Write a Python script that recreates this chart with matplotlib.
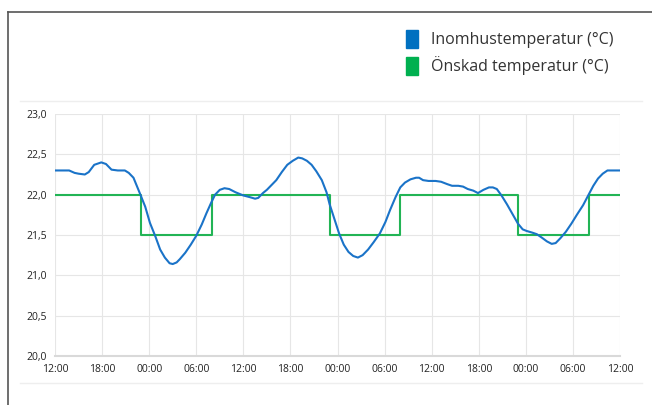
import matplotlib.pyplot as plt
from matplotlib.lines import Line2D
from matplotlib.patches import Patch

plt.rcParams['font.family'] = ['Open Sans', 'DejaVu Sans']

# timmar från start (12:00 dag 1)
inne_t = [0, 1.8, 2.5, 3.0, 3.8, 4.3, 5.0, 5.9, 6.5, 7.2, 8.0, 8.9, 9.4, 10.0,
          10.8, 11.5, 12.1, 12.8, 13.4, 14.0, 14.6, 15.0, 15.5, 15.9, 16.6, 17.3,
          18.0, 18.7, 19.3, 19.9, 20.4, 21.0, 21.6, 22.2, 23.0, 24.0, 24.8, 25.5,
          25.9, 26.5, 27.0, 27.6, 28.2, 28.9, 29.6, 30.3, 31.0, 31.5, 32.1, 32.7,
          33.3, 34.0, 34.6, 35.0, 35.6, 36.2, 36.8, 37.4, 38.0, 38.6, 39.2, 39.9,
          40.6, 41.4, 42.1, 42.7, 43.4, 44.0, 44.6, 45.3, 46.0, 46.4, 46.9, 47.6,
          48.5, 49.2, 50.0, 50.6, 51.4, 52.0, 52.6, 53.3, 53.9, 54.6, 55.3, 55.8,
          56.3, 56.9, 57.6, 58.3, 59.0, 59.6, 60.1, 60.8, 61.4, 62.0, 62.7, 63.3,
          63.8, 64.4, 65.1, 65.8, 66.5, 67.3, 68.0, 68.6, 69.2, 69.8, 70.4, 71.0, 72.0]
inne_temp = [22.30, 22.30, 22.27, 22.26, 22.25, 22.28, 22.37, 22.40, 22.38, 22.31,
             22.30, 22.30, 22.27, 22.21, 22.02, 21.85, 21.65, 21.48, 21.32, 21.22,
             21.15, 21.14, 21.16, 21.20, 21.28, 21.38, 21.49, 21.63, 21.77, 21.90,
             22.00, 22.06, 22.08, 22.07, 22.03, 21.99, 21.97, 21.95, 21.96, 22.02,
             22.06, 22.12, 22.18, 22.28, 22.37, 22.42, 22.46, 22.45, 22.42, 22.37,
             22.29, 22.18, 22.03, 21.88, 21.70, 21.52, 21.38, 21.29, 21.24, 21.22,
             21.25, 21.32, 21.41, 21.52, 21.66, 21.81, 21.97, 22.09, 22.15, 22.19,
             22.21, 22.21, 22.18, 22.17, 22.17, 22.16, 22.13, 22.11, 22.11, 22.10,
             22.07, 22.05, 22.02, 22.06, 22.09, 22.09, 22.07, 21.99, 21.88, 21.76,
             21.64, 21.57, 21.55, 21.53, 21.51, 21.47, 21.42, 21.39, 21.40, 21.46,
             21.54, 21.64, 21.75, 21.87, 22.00, 22.11, 22.20, 22.26, 22.30, 22.30, 22.30]

onskad_t = [0, 11, 20, 35, 44, 59, 68, 72]
onskad_temp = [22.0, 21.5, 22.0, 21.5, 22.0, 21.5, 22.0, 22.0]

tick_pos = list(range(0, 73, 6))
tick_lab = ['12:00', '18:00', '00:00', '06:00'] * 3 + ['12:00']
y_ticks = [20.0, 20.5, 21.0, 21.5, 22.0, 22.5, 23.0]

blue = '#1a73c8'
green = '#22b455'

fig = plt.figure(figsize=(6.52, 4.05), dpi=100)
ax = fig.add_axes([55 / 652, 49 / 405, 565 / 652, 242 / 405])

ax.plot(onskad_t, onskad_temp, drawstyle='steps-post', color=green, lw=1.5)
ax.plot(inne_t, inne_temp, color=blue, lw=1.5)

ax.set_xlim(0, 72)
ax.set_ylim(20, 23)
ax.set_xticks(tick_pos)
ax.set_xticklabels(tick_lab)
ax.set_yticks(y_ticks)
ax.set_yticklabels([f'{v:.1f}'.replace('.', ',') for v in y_ticks])
ax.tick_params(length=0, labelsize=7.5, colors='#222222', pad=6)
ax.grid(True, color='#e6e6e6', lw=0.8)
ax.set_axisbelow(True)
for s in ['top', 'right', 'left']:
    ax.spines[s].set_visible(False)
ax.spines['bottom'].set_color('#d9d9d9')
ax.spines['bottom'].set_linewidth(1.5)

# ram och avdelare
fig.add_artist(Line2D([8 / 652, 8 / 652], [0, 1 - 12 / 405], color='#555555', lw=1.2))
fig.add_artist(Line2D([8 / 652, 1], [1 - 12 / 405, 1 - 12 / 405], color='#555555', lw=1.2))
fig.add_artist(Line2D([20 / 652, 642 / 652], [1 - 101 / 405, 1 - 101 / 405], color='#eeeeee', lw=1))
fig.add_artist(Line2D([20 / 652, 642 / 652], [1 - 383 / 405, 1 - 383 / 405], color='#eeeeee', lw=1))

handles = [Patch(color='#0070c0', label='Inomhustemperatur (°C)'),
           Patch(color='#00b050', label='Önskad temperatur (°C)')]
fig.legend(handles=handles, loc='upper left', bbox_to_anchor=(392 / 652, 1 - 16 / 405),
           frameon=False, fontsize=11.5, handlelength=0.75, handleheight=1.3,
           handletextpad=0.8, labelspacing=0.5, labelcolor='#333333')

fig.savefig('out.png', dpi=100)
